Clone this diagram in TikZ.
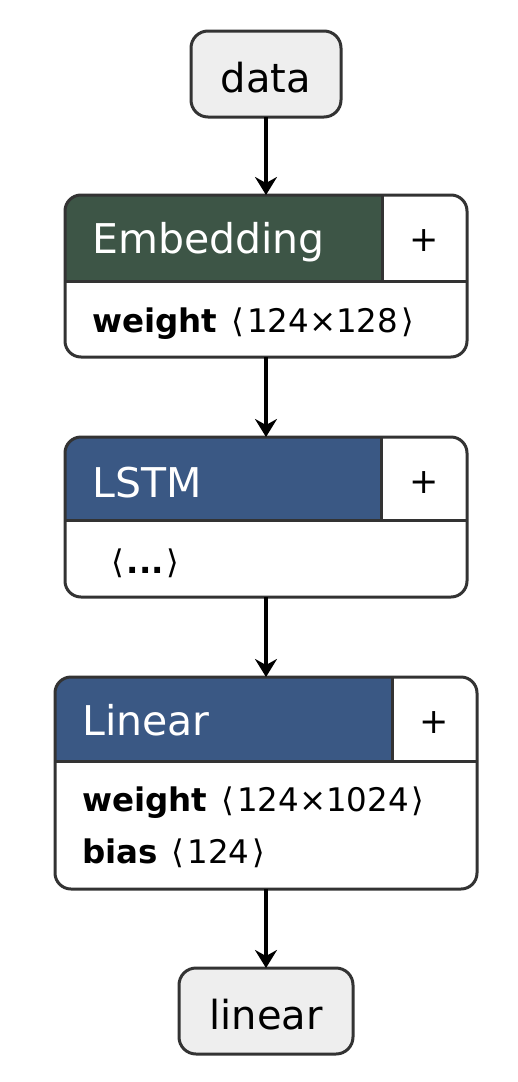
\documentclass[tikz,border=0pt]{standalone}
\usepackage{fontspec}
\setmainfont{DejaVu Sans}
\usetikzlibrary{arrows.meta}
\definecolor{hdrgreen}{RGB}{61,85,70}
\definecolor{hdrblue}{RGB}{58,88,132}
\definecolor{edgegray}{RGB}{51,51,51}
\definecolor{iofill}{RGB}{238,238,238}
\newcommand{\shp}[1]{\hspace{14pt}⟨\hspace{3pt}#1\hspace{3pt}⟩}
\begin{document}
\begin{tikzpicture}[x=1pt,y=-1pt,
  iobox/.style={draw=edgegray, line width=3pt, fill=iofill, rounded corners=17pt,
    minimum height=86pt, inner sep=0pt, outer sep=0pt,
    text height=36pt, text depth=0pt, font=\fontsize{40}{48}\selectfont},
  layerframe/.style={inner sep=0pt, outer sep=0pt},
  outline/.style={draw=edgegray, line width=3pt, rounded corners=16pt},
  rule/.style={draw=edgegray, line width=3pt},
  flow/.style={line width=3.5pt, -{Stealth[length=18pt,width=22pt,inset=6pt]}},
  title/.style={anchor=base west, inner sep=0pt, text=white, font=\fontsize{41}{48}\selectfont},
  plus/.style={inner sep=0pt, font=\fontsize{35}{40}\selectfont},
  param/.style={anchor=base west, inner sep=0pt, font=\fontsize{32.5}{38}\selectfont}
]
\useasboundingbox (0,0) rectangle (518,1082);

% input node
\node[iobox, minimum width=150pt] (data) at (266,74) {data};

% Embedding layer
\node[layerframe, minimum width=402pt, minimum height=162pt] (emb) at (266,276) {};
\begin{scope}
  \clip[rounded corners=16pt] (emb.north west) rectangle (emb.south east);
  \fill[hdrgreen] (emb.north west) rectangle (382,281);
\end{scope}
\draw[rule] (65,281) -- (467,281);
\draw[rule] (382,195) -- (382,281);
\draw[outline] (emb.north west) rectangle (emb.south east);
\node[title] (embT) at (92,253) {Embedding};
\node[plus] (embP) at (424,241) {+};
\node[param] (embW) at (92,332) {\textbf{weight}\shp{124×128}};

% LSTM layer
\node[layerframe, minimum width=402pt, minimum height=160pt] (lstm) at (266,517) {};
\begin{scope}
  \clip[rounded corners=16pt] (lstm.north west) rectangle (lstm.south east);
  \fill[hdrblue] (lstm.north west) rectangle (381,520);
\end{scope}
\draw[rule] (65,520) -- (467,520);
\draw[rule] (381,437) -- (381,520);
\draw[outline] (lstm.north west) rectangle (lstm.south east);
\node[title] (lstmT) at (92,497) {LSTM};
\node[plus] (lstmP) at (424,483) {+};
\node[param] (lstmW) at (111,573) {⟨\hspace{3pt}\textbf{...}\hspace{3pt}⟩};

% Linear layer
\node[layerframe, minimum width=422pt, minimum height=212pt] (lin) at (266,783) {};
\begin{scope}
  \clip[rounded corners=16pt] (lin.north west) rectangle (lin.south east);
  \fill[hdrblue] (lin.north west) rectangle (392,761);
\end{scope}
\draw[rule] (55,761) -- (477,761);
\draw[rule] (392,677) -- (392,761);
\draw[outline] (lin.north west) rectangle (lin.south east);
\node[title] (linT) at (82,735) {Linear};
\node[plus] (linP) at (434,723) {+};
\node[param] (linW) at (82,811) {\textbf{weight}\shp{124×1024}};
\node[param] (linB) at (82,863) {\textbf{bias}\shp{124}};

% output node
\node[iobox, minimum width=174pt] (out) at (266,1011) {linear};

% connectors
\draw[flow] (data) -- (emb);
\draw[flow] (emb) -- (lstm);
\draw[flow] (lstm) -- (lin);
\draw[flow] (lin) -- (out);
\end{tikzpicture}
\end{document}
